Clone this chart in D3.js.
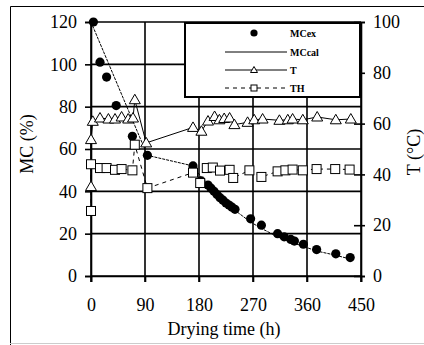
<!DOCTYPE html>
<html><head><meta charset="utf-8">
<script src="https://cdn.jsdelivr.net/npm/d3@7"></script>
<style>
html,body{margin:0;padding:0;background:#fff;}
svg{display:block;}
svg text{font-family:"Liberation Serif","Times New Roman",serif;fill:#000;}
</style></head>
<body><svg id="c" width="424" height="345"></svg>
<script>
// ---- data ----
const xTicks = [0, 90, 180, 270, 360, 450];
const yLeftTicks = [0, 20, 40, 60, 80, 100, 120];
const yRightTicks = [0, 20, 40, 60, 80, 100];

const mcExTime = [4, 15, 26, 42, 69, 94, 170, 183, 195, 200, 205, 210, 215, 220, 225, 230, 235, 240, 266, 284, 311, 322, 333, 339, 354, 376, 408, 432];
const mcExVal  = [120, 101, 94, 80.5, 66, 57, 52, 45, 43, 41.5, 40, 38.5, 37, 35.8, 34.5, 33.5, 32.5, 31.5, 27, 24, 20, 18.5, 17.3, 16.5, 15, 12.5, 10.5, 8.7];

const mcCalTime = [0, 94, 170, 183, 195, 210, 225, 240, 266, 284, 311, 333, 356, 376, 408, 432];
const mcCalVal  = [120, 57, 52, 47, 42.5, 38, 34, 31, 25.5, 22.5, 18.5, 16, 13.8, 11.8, 9.8, 8];

const tTime = [0, 0, 3, 15, 29, 40, 51, 62, 70, 73, 92, 170, 184, 195, 206, 214, 222, 231, 239, 261, 272, 286, 314, 328, 336, 353, 377, 408, 433];
const tVal  = [35.2, 53.7, 60.9, 62.2, 61.8, 61.8, 62.6, 61.8, 62.2, 69.4, 52.4, 58.5, 57, 61, 62.8, 61.5, 62, 62.2, 59.6, 60.5, 61.5, 61.8, 61.3, 61.5, 61.8, 61.5, 62.6, 61.5, 61.8];

const thTime = [0, 0, 15, 26, 40, 51, 69, 73, 94, 170, 182, 193, 203, 215, 231, 237, 264, 284, 311, 324, 336, 353, 376, 407, 431];
const thVal  = [25.6, 44, 42.5, 42.5, 41.8, 42.1, 41.6, 51.7, 34.6, 40.7, 36.6, 42.5, 42.7, 41.5, 41.8, 38.6, 41.6, 39, 41.2, 41.6, 41.9, 41.6, 42.1, 42.1, 41.9];

const legendLabels = ["MCex", "MCcal", "T", "TH"];

// ---- drawing ----
const FONT = "Liberation Serif";
const svg = d3.select("#c");
const x = d3.scaleLinear().domain([0, 450]).range([91, 361]);
const yL = d3.scaleLinear().domain([0, 120]).range([276, 22]);
const yR = d3.scaleLinear().domain([0, 100]).range([276, 22]);

// outer frame
svg.append("line").attr("x1", 10.5).attr("y1", 6.5).attr("x2", 424).attr("y2", 6.5).attr("stroke", "#000").attr("stroke-width", 1);
svg.append("line").attr("x1", 10.5).attr("y1", 6.5).attr("x2", 10.5).attr("y2", 345).attr("stroke", "#000").attr("stroke-width", 1);
svg.append("line").attr("x1", 10).attr("y1", 343.5).attr("x2", 424).attr("y2", 343.5).attr("stroke", "#ccc").attr("stroke-width", 1);

// grid
const grid = svg.append("g");
yLeftTicks.forEach(v => grid.append("line").attr("x1", x(0)).attr("x2", x(450)).attr("y1", yL(v)).attr("y2", yL(v)).attr("stroke", "#000").attr("stroke-width", 1.6));
xTicks.forEach(v => grid.append("line").attr("x1", x(v)).attr("x2", x(v)).attr("y1", yL(120)).attr("y2", yL(0) + 6).attr("stroke", "#000").attr("stroke-width", 1.6));

// left axis
const gl = svg.append("g").attr("transform", `translate(${x(0)},0)`)
  .call(d3.axisLeft(yL).tickValues(yLeftTicks).tickSize(6).tickPadding(8).tickFormat(d3.format("d")));
gl.attr("font-family", FONT);
gl.select(".domain").attr("stroke-width", 1.6);
gl.selectAll(".tick line").attr("stroke-width", 1.6);
gl.selectAll("text").attr("font-size", 18);

// right axis
const gr = svg.append("g").attr("transform", `translate(${x(450)},0)`)
  .call(d3.axisRight(yR).tickValues(yRightTicks).tickSize(4).tickPadding(8).tickFormat(d3.format("d")));
gr.attr("font-family", FONT);
gr.select(".domain").attr("stroke-width", 1.6);
gr.selectAll(".tick line").attr("x1", -7).attr("stroke-width", 1.6);
gr.selectAll("text").attr("font-size", 18);

// bottom axis
const gb = svg.append("g").attr("transform", `translate(0,${yL(0)})`)
  .call(d3.axisBottom(x).tickValues(xTicks).tickSize(6).tickPadding(0).tickFormat(d3.format("d")));
gb.attr("font-family", FONT);
gb.select(".domain").attr("stroke-width", 1.6);
gb.selectAll(".tick line").attr("stroke-width", 1.6);
gb.selectAll("text").attr("font-size", 18).attr("y", 35).attr("dy", 0);

// axis titles
svg.append("text").attr("transform", "translate(33,144) rotate(-90)").attr("text-anchor", "middle").attr("font-family", FONT).attr("font-size", 18).text("MC (%)");
svg.append("text").attr("transform", "translate(420,152) rotate(-90)").attr("text-anchor", "middle").attr("font-family", FONT).attr("font-size", 18).text("T (°C)");
svg.append("text").attr("x", 224).attr("y", 335).attr("text-anchor", "middle").attr("font-family", FONT).attr("font-size", 18).text("Drying time (h)");

// lines
const lineL = d3.line().x(d => x(d[0])).y(d => yL(d[1]));
const lineR = d3.line().x(d => x(d[0])).y(d => yR(d[1]));
const calData = mcCalTime.map((t, i) => [t, mcCalVal[i]]);
const exData = mcExTime.map((t, i) => [t, mcExVal[i]]);
const tData = tTime.map((t, i) => [t, tVal[i]]);
const thData = thTime.map((t, i) => [t, thVal[i]]);

svg.append("path").datum(calData).attr("d", lineL).attr("fill", "none").attr("stroke", "#000").attr("stroke-width", 1).attr("stroke-dasharray", "3,1");
svg.append("path").datum(tData).attr("d", lineR).attr("fill", "none").attr("stroke", "#000").attr("stroke-width", 1);
svg.append("path").datum(thData).attr("d", lineR).attr("fill", "none").attr("stroke", "#000").attr("stroke-width", 1).attr("stroke-dasharray", "4,4");

// markers
svg.append("g").selectAll("circle").data(exData).join("circle")
  .attr("cx", d => x(d[0])).attr("cy", d => yL(d[1])).attr("r", 4.6).attr("fill", "#000");

const tri = "M0,-5.5L5.5,4L-5.5,4Z";
svg.append("g").selectAll("path").data(tData).join("path")
  .attr("d", tri).attr("transform", d => `translate(${x(d[0])},${yR(d[1])})`)
  .attr("fill", "#fff").attr("stroke", "#000").attr("stroke-width", 1);

svg.append("g").selectAll("rect").data(thData).join("rect")
  .attr("x", d => x(d[0]) - 4.5).attr("y", d => yR(d[1]) - 4.5).attr("width", 9).attr("height", 9)
  .attr("fill", "#fff").attr("stroke", "#000").attr("stroke-width", 1);

// legend
const lg = svg.append("g");
lg.append("rect").attr("x", 185).attr("y", 23).attr("width", 175).attr("height", 74).attr("fill", "#fff").attr("stroke", "#000").attr("stroke-width", 2);
const ly = [33, 52, 70, 88];
const lx0 = 225, lx1 = 287, lc = 254;
lg.append("circle").attr("cx", lc).attr("cy", ly[0]).attr("r", 3.6).attr("fill", "#000");
lg.append("line").attr("x1", lx0).attr("x2", lx1).attr("y1", ly[1]).attr("y2", ly[1]).attr("stroke", "#000").attr("stroke-width", 1);
lg.append("line").attr("x1", lx0).attr("x2", lx1).attr("y1", ly[2]).attr("y2", ly[2]).attr("stroke", "#000").attr("stroke-width", 1);
lg.append("path").attr("d", "M0,-3.5L3.5,2.5L-3.5,2.5Z").attr("transform", `translate(${lc},${ly[2]})`).attr("fill", "#fff").attr("stroke", "#000").attr("stroke-width", 1);
lg.append("line").attr("x1", lx0).attr("x2", lx1).attr("y1", ly[3]).attr("y2", ly[3]).attr("stroke", "#000").attr("stroke-width", 1).attr("stroke-dasharray", "4,4");
lg.append("rect").attr("x", lc - 3).attr("y", ly[3] - 3).attr("width", 6).attr("height", 6).attr("fill", "#fff").attr("stroke", "#000").attr("stroke-width", 1);
lg.selectAll("text.lab").data(legendLabels).join("text").attr("class", "lab")
  .attr("x", 290).attr("y", (d, i) => ly[i] + 3.5).attr("font-family", FONT).attr("font-size", 10).attr("font-weight", "bold").text(d => d);
</script></body></html>
